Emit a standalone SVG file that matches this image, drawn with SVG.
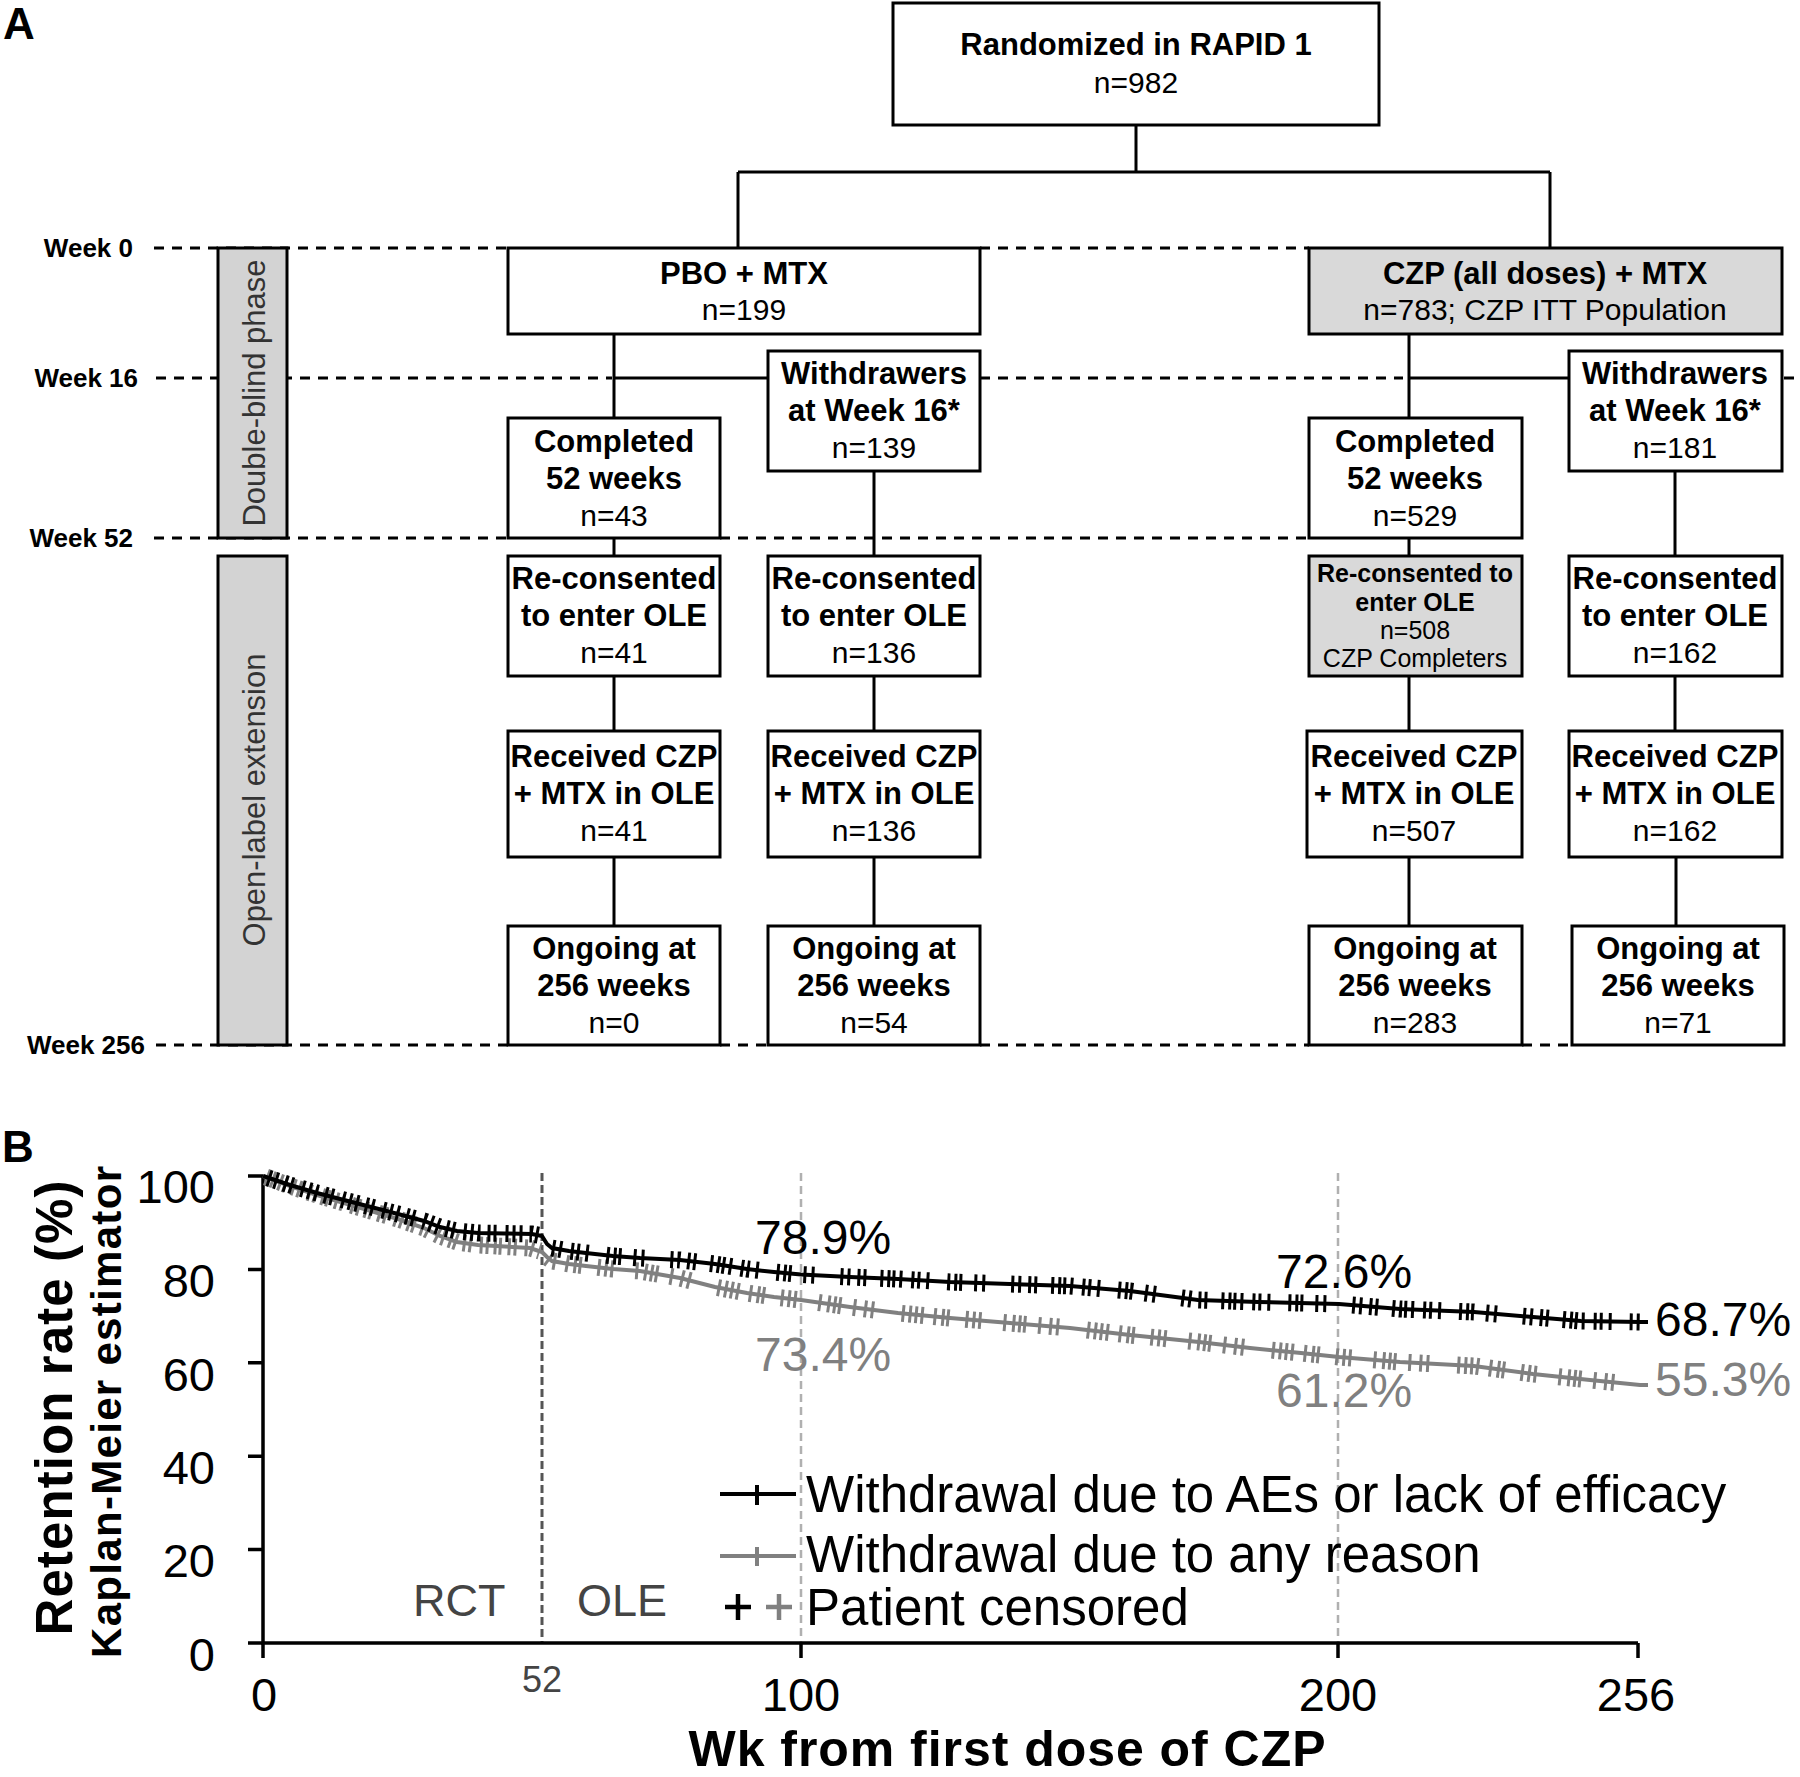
<svg xmlns="http://www.w3.org/2000/svg" width="1800" height="1777" viewBox="0 0 1800 1777">
<style>
.box{fill:#fff;stroke:#000;stroke-width:3}
.gbox{fill:#d9d9d9;stroke:#000;stroke-width:3}
.bar{fill:#d3d3d3;stroke:#000;stroke-width:3}
.con{stroke:#000;stroke-width:3;fill:none}
.wk{stroke:#000;stroke-width:3;stroke-dasharray:10 8;fill:none}
text{font-family:"Liberation Sans",Arial,Helvetica,sans-serif}
.tb{font-weight:bold;font-size:31px;text-anchor:middle}
.ts{font-weight:bold;font-size:25px;text-anchor:middle}
.tn{font-size:30px;text-anchor:middle}
.tns{font-size:25px;text-anchor:middle}
.wl{font-weight:bold;font-size:26px;text-anchor:end}
.side{font-size:31px;text-anchor:middle;fill:#333}
.lbl{font-weight:bold;font-size:44px}
.ax{stroke:#000;stroke-width:3.5;fill:none}
.tick{font-size:47px}
.pct{font-size:48px}
.leg{font-size:51px}
.blk{stroke:#000;fill:none}
.gry{stroke:#808080;fill:none}
</style>

<text class="lbl" x="3" y="39">A</text>

<g id="week-lines">
<path class="wk" d="M154,248H508M980,248H1309"/>
<path class="wk" d="M156,378H612M980,378H1403M1784,378H1800"/>
<path class="wk" d="M154,538H508M720,538H1309"/>
<path class="wk" d="M156,1045H508M720,1045H768M980,1045H1309M1522,1045H1572"/>
<text class="wl" x="133" y="257">Week 0</text>
<text class="wl" x="138" y="387">Week 16</text>
<text class="wl" x="133" y="547">Week 52</text>
<text class="wl" x="145" y="1054">Week 256</text>
</g>

<g id="phase-double-blind">
<rect class="bar" x="218" y="248" width="69" height="290"/>
<text class="side" transform="translate(265,393) rotate(-90)">Double-blind phase</text>
</g>
<g id="phase-open-label">
<rect class="bar" x="218" y="556" width="69" height="489"/>
<text class="side" transform="translate(265,800) rotate(-90)">Open-label extension</text>
</g>

<g id="connectors">
<path class="con" d="M1136,125V172M738,172H1550M738,172V248M1550,172V248"/>
<path class="con" d="M614,334V418M614,378H768M874,471V556"/>
<path class="con" d="M614,538V556M614,676V731M614,857V926"/>
<path class="con" d="M874,676V731M874,857V926"/>
<path class="con" d="M1409,334V418M1409,378H1569M1675,471V556"/>
<path class="con" d="M1409,538V556M1409,676V731M1409,857V926"/>
<path class="con" d="M1675,676V731M1676,857V926"/>
</g>

<g id="n-randomized">
<rect class="box" x="893" y="3" width="486" height="122"/>
<text class="tb" x="1136" y="55">Randomized in RAPID 1</text>
<text class="tn" x="1136" y="93">n=982</text>
</g>
<g id="n-pbo">
<rect class="box" x="508" y="248" width="472" height="86"/>
<text class="tb" x="744" y="284">PBO + MTX</text>
<text class="tn" x="744" y="320">n=199</text>
</g>
<g id="n-czp">
<rect class="gbox" x="1309" y="248" width="473" height="86"/>
<text class="tb" x="1545" y="284">CZP (all doses) + MTX</text>
<text class="tn" x="1545" y="320">n=783; CZP ITT Population</text>
</g>

<g id="n-pbo-withdrawers">
<rect class="box" x="768" y="351" width="212" height="120"/>
<text class="tb" x="874" y="384">Withdrawers</text>
<text class="tb" x="874" y="421">at Week 16*</text>
<text class="tn" x="874" y="458">n=139</text>
</g>
<g id="n-pbo-completed">
<rect class="box" x="508" y="418" width="212" height="120"/>
<text class="tb" x="614" y="452">Completed</text>
<text class="tb" x="614" y="489">52 weeks</text>
<text class="tn" x="614" y="526">n=43</text>
</g>
<g id="n-czp-completed">
<rect class="box" x="1309" y="418" width="213" height="120"/>
<text class="tb" x="1415" y="452">Completed</text>
<text class="tb" x="1415" y="489">52 weeks</text>
<text class="tn" x="1415" y="526">n=529</text>
</g>
<g id="n-czp-withdrawers">
<rect class="box" x="1569" y="351" width="213" height="120"/>
<text class="tb" x="1675" y="384">Withdrawers</text>
<text class="tb" x="1675" y="421">at Week 16*</text>
<text class="tn" x="1675" y="458">n=181</text>
</g>

<g id="n-reconsent-1">
<rect class="box" x="508" y="556" width="212" height="120"/>
<text class="tb" x="614" y="589">Re-consented</text>
<text class="tb" x="614" y="626">to enter OLE</text>
<text class="tn" x="614" y="663">n=41</text>
</g>
<g id="n-reconsent-2">
<rect class="box" x="768" y="556" width="212" height="120"/>
<text class="tb" x="874" y="589">Re-consented</text>
<text class="tb" x="874" y="626">to enter OLE</text>
<text class="tn" x="874" y="663">n=136</text>
</g>
<g id="n-reconsent-3">
<rect class="gbox" x="1309" y="556" width="213" height="120"/>
<text class="ts" x="1415" y="582">Re-consented to</text>
<text class="ts" x="1415" y="611">enter OLE</text>
<text class="tns" x="1415" y="639">n=508</text>
<text class="tns" x="1415" y="667">CZP Completers</text>
</g>
<g id="n-reconsent-4">
<rect class="box" x="1569" y="556" width="213" height="120"/>
<text class="tb" x="1675" y="589">Re-consented</text>
<text class="tb" x="1675" y="626">to enter OLE</text>
<text class="tn" x="1675" y="663">n=162</text>
</g>

<g id="n-received-1">
<rect class="box" x="508" y="731" width="212" height="126"/>
<text class="tb" x="614" y="767">Received CZP</text>
<text class="tb" x="614" y="804">+ MTX in OLE</text>
<text class="tn" x="614" y="841">n=41</text>
</g>
<g id="n-received-2">
<rect class="box" x="768" y="731" width="212" height="126"/>
<text class="tb" x="874" y="767">Received CZP</text>
<text class="tb" x="874" y="804">+ MTX in OLE</text>
<text class="tn" x="874" y="841">n=136</text>
</g>
<g id="n-received-3">
<rect class="box" x="1307" y="731" width="215" height="126"/>
<text class="tb" x="1414" y="767">Received CZP</text>
<text class="tb" x="1414" y="804">+ MTX in OLE</text>
<text class="tn" x="1414" y="841">n=507</text>
</g>
<g id="n-received-4">
<rect class="box" x="1569" y="731" width="213" height="126"/>
<text class="tb" x="1675" y="767">Received CZP</text>
<text class="tb" x="1675" y="804">+ MTX in OLE</text>
<text class="tn" x="1675" y="841">n=162</text>
</g>

<g id="n-ongoing-1">
<rect class="box" x="508" y="926" width="212" height="119"/>
<text class="tb" x="614" y="959">Ongoing at</text>
<text class="tb" x="614" y="996">256 weeks</text>
<text class="tn" x="614" y="1033">n=0</text>
</g>
<g id="n-ongoing-2">
<rect class="box" x="768" y="926" width="212" height="119"/>
<text class="tb" x="874" y="959">Ongoing at</text>
<text class="tb" x="874" y="996">256 weeks</text>
<text class="tn" x="874" y="1033">n=54</text>
</g>
<g id="n-ongoing-3">
<rect class="box" x="1309" y="926" width="213" height="119"/>
<text class="tb" x="1415" y="959">Ongoing at</text>
<text class="tb" x="1415" y="996">256 weeks</text>
<text class="tn" x="1415" y="1033">n=283</text>
</g>
<g id="n-ongoing-4">
<rect class="box" x="1572" y="926" width="212" height="119"/>
<text class="tb" x="1678" y="959">Ongoing at</text>
<text class="tb" x="1678" y="996">256 weeks</text>
<text class="tn" x="1678" y="1033">n=71</text>
</g>

<!-- Panel B -->
<text class="lbl" x="2" y="1162">B</text>
<g id="chart">
<text font-weight="bold" font-size="51" text-anchor="middle" textLength="455" lengthAdjust="spacing" transform="translate(72,1408) rotate(-90)">Retention rate (%)</text>
<text font-weight="bold" font-size="42" text-anchor="middle" textLength="492" lengthAdjust="spacing" transform="translate(121,1412) rotate(-90)">Kaplan-Meier estimator</text>

<path d="M542,1173V1643" stroke="#555" stroke-width="3" stroke-dasharray="8 4" fill="none"/>
<path d="M801,1173V1643M1338,1173V1643" stroke="#b0b0b0" stroke-width="2.5" stroke-dasharray="8 5" fill="none"/>

<path class="ax" d="M263,1176V1643H1638"/>
<path class="ax" d="M248,1176H263M248,1269.4H263M248,1362.8H263M248,1456.2H263M248,1549.6H263M248,1643H263"/>
<path class="ax" d="M263,1643V1658M801,1643V1658M1338,1643V1658M1638,1643V1658"/>

<g class="tick" text-anchor="end">
<text x="215" y="1203">100</text>
<text x="215" y="1297">80</text>
<text x="215" y="1391">60</text>
<text x="215" y="1484">40</text>
<text x="215" y="1577">20</text>
<text x="215" y="1671">0</text>
</g>
<g class="tick" text-anchor="middle">
<text x="264" y="1711">0</text>
<text x="801" y="1711">100</text>
<text x="1338" y="1711">200</text>
<text x="1636" y="1711">256</text>
</g>
<text x="542" y="1692" font-size="36" fill="#444" text-anchor="middle">52</text>
<text x="1007" y="1766" font-weight="bold" font-size="50" text-anchor="middle" textLength="637" lengthAdjust="spacing">Wk from first dose of CZP</text>

<g id="curve-gray">
<polyline class="gry" stroke-width="4" points="263,1176 290,1186 317,1195 344,1203 371,1211 398,1219 424,1228 440,1236 457,1242 478,1245 505,1246.5 530,1248 542,1252 547,1257 552,1261 569,1264 586,1266 613,1269 640,1271 680,1278 715,1287 747,1293 774,1297 801,1300 850,1307 898,1313 950,1318 1010,1323 1070,1328 1130,1335 1199,1342 1250,1348 1301,1353 1339,1357 1400,1362 1474,1366 1533,1374 1590,1380 1640,1385 1648,1385"/>
<polyline class="gry" stroke-width="17" stroke-dasharray="3 3 3 5 3 2 3 6 3 3 3 8" points="266,1177 290,1186 317,1195 344,1203 371,1211 398,1219 424,1228 440,1236 457,1242 478,1245 505,1246.5 530,1248 540,1251"/>
<polyline class="gry" stroke-width="17" stroke-dasharray="3 3 3 10 3 5 3 2 3 16 3 4 3 3 3 22 3 6 3 3 3 2 3 12 3 8 3 4 3 28 3 4 3 3" points="548,1258 552,1261 569,1264 586,1266 613,1269 640,1271 680,1278 715,1287 747,1293 774,1297 801,1300 850,1307 898,1313 950,1318 1010,1323 1070,1328 1130,1335 1199,1342 1250,1348 1301,1353 1339,1357 1400,1362 1474,1366 1533,1374 1590,1380 1640,1385"/>
</g>
<g id="curve-black">
<polyline class="blk" stroke-width="4" points="263,1176 290,1185 317,1193 344,1200 371,1207 398,1214 424,1221 440,1227 457,1231 478,1233 505,1233.5 532,1234 542,1236 547,1244 552,1248 569,1251 586,1253 613,1256 640,1258 680,1260 715,1264 747,1269 774,1272 801,1274.5 850,1277 898,1279 950,1282 1010,1284 1070,1286 1130,1291 1198,1300 1258,1302 1339,1304 1400,1309 1474,1312 1533,1317 1581,1321 1640,1322 1648,1322"/>
<polyline class="blk" stroke-width="17" stroke-dasharray="3 4 3 7 3 3 3 9 3 4" points="268,1178 290,1185 317,1193 344,1200 371,1207 398,1214 424,1221 440,1227 457,1231 478,1233 505,1233.5 532,1234 540,1235.5"/>
<polyline class="blk" stroke-width="17" stroke-dasharray="3 4 3 9 3 3 3 6 3 18 3 4 3 2 3 12 3 5 3 26 3 4 3 7 3 3 3 14 3 4 3 2" points="552,1248 569,1251 586,1253 613,1256 640,1258 680,1260 715,1264 747,1269 774,1272 801,1274.5 850,1277 898,1279 950,1282 1010,1284 1070,1286 1130,1291 1198,1300 1258,1302 1339,1304 1400,1309 1474,1312 1533,1317 1581,1321 1640,1322"/>
</g>

<g class="pct">
<text x="755" y="1254">78.9%</text>
<text x="755" y="1371" fill="#808080">73.4%</text>
<text x="1276" y="1288">72.6%</text>
<text x="1276" y="1407" fill="#808080">61.2%</text>
<text x="1655" y="1336">68.7%</text>
<text x="1655" y="1396" fill="#808080">55.3%</text>
</g>

<g font-size="45" fill="#444">
<text x="413" y="1616">RCT</text>
<text x="577" y="1616">OLE</text>
</g>

<g id="legend">
<path class="blk" stroke-width="4" d="M720,1494H796M757,1485V1505"/>
<path class="gry" stroke-width="4" d="M720,1556H796M757,1547V1566"/>
<path class="blk" stroke-width="4.5" d="M725,1607H751M738,1594V1620"/>
<path class="gry" stroke-width="4.5" d="M766,1607H792M779,1594V1620"/>
<text class="leg" x="806" y="1512">Withdrawal due to AEs or lack of efficacy</text>
<text class="leg" x="806" y="1572">Withdrawal due to any reason</text>
<text class="leg" x="806" y="1625">Patient censored</text>
</g>
</g>
</svg>
